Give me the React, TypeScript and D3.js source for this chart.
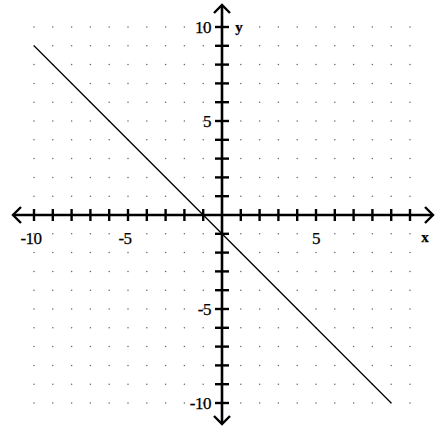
import React from "react";
import * as d3 from "d3";

const xDomain: [number, number] = [-10, 10];
const yDomain: [number, number] = [-10, 10];
const gridValues: number[] = d3.range(-10, 11);
const xTickLabels: number[] = [-10, -5, 5];
const yTickLabels: number[] = [10, 5, -5, -10];
const lineX: number[] = [-10, 9];
const lineY: number[] = [9, -10];

const W = 441;
const H = 432;

export default function App() {
  const x = d3.scaleLinear().domain(xDomain).range([34, 410]);
  const y = d3.scaleLinear().domain(yDomain).range([403, 27]);
  const x0 = x(0);
  const y0 = y(0);
  const pts: [number, number][] = lineX.map((v, i) => [v, lineY[i]]);
  const lineGen = d3
    .line<[number, number]>()
    .x((d) => x(d[0]))
    .y((d) => y(d[1]));
  const font = "'Liberation Serif', 'Times New Roman', serif";
  const ticks = gridValues.filter((v) => v !== 0);
  const dots: [number, number][] = [];
  ticks.forEach((a) => ticks.forEach((b) => dots.push([a, b])));
  const axisLeft = 13;
  const axisRight = 433;
  const axisTop = 5;
  const axisBottom = 424;
  const ah = 8;
  return (
    <svg
      width={W}
      height={H}
      style={{ position: "absolute", left: 0, top: 0, background: "#fff" }}
    >
      <rect width={W} height={H} fill="#fff" />
      {dots.map((d, i) => (
        <circle key={i} cx={x(d[0])} cy={y(d[1])} r={0.75} fill="#666" />
      ))}
      {/* axes */}
      <line x1={axisLeft + 1} x2={axisRight - 1} y1={y0} y2={y0} stroke="#000" strokeWidth={2.6} />
      <line x1={x0} x2={x0} y1={axisTop + 1} y2={axisBottom - 1} stroke="#000" strokeWidth={2.6} />
      <path
        d={`M${axisLeft + ah},${y0 - ah} L${axisLeft},${y0} L${axisLeft + ah},${y0 + ah}`}
        fill="none"
        stroke="#000"
        strokeWidth={2.4}
      />
      <path
        d={`M${axisRight - ah},${y0 - ah} L${axisRight},${y0} L${axisRight - ah},${y0 + ah}`}
        fill="none"
        stroke="#000"
        strokeWidth={2.4}
      />
      <path
        d={`M${x0 - ah},${axisTop + ah} L${x0},${axisTop} L${x0 + ah},${axisTop + ah}`}
        fill="none"
        stroke="#000"
        strokeWidth={2.4}
      />
      <path
        d={`M${x0 - ah},${axisBottom - ah} L${x0},${axisBottom} L${x0 + ah},${axisBottom - ah}`}
        fill="none"
        stroke="#000"
        strokeWidth={2.4}
      />
      {ticks.map((v) => (
        <line key={"xt" + v} x1={x(v)} x2={x(v)} y1={y0 - 6} y2={y0 + 6} stroke="#000" strokeWidth={2.4} />
      ))}
      {ticks.map((v) => (
        <line key={"yt" + v} x1={x0 - 7} x2={x0 + 7} y1={y(v)} y2={y(v)} stroke="#000" strokeWidth={2.4} />
      ))}
      {/* line */}
      <path d={lineGen(pts) || ""} fill="none" stroke="#000" strokeWidth={1.3} />
      {/* labels */}
      <g fontFamily={font} fontSize={17} fill="#000" stroke="#000" strokeWidth={0.25}>
        {xTickLabels.map((v) => (
          <text key={"xl" + v} x={x(v) + (v < 0 ? -3 : 0)} y={y0 + 29} textAnchor="middle" letterSpacing={-0.5}>
            {v < 0 ? "-" + Math.abs(v) : String(v)}
          </text>
        ))}
        {yTickLabels.map((v) => (
          <text key={"yl" + v} x={x0 - 11} y={y(v) + 6} textAnchor="end" letterSpacing={-0.5}>
            {v < 0 ? "-" + Math.abs(v) : String(v)}
          </text>
        ))}
        <text x={425} y={y0 + 27} textAnchor="middle" fontWeight="bold" fontSize={15}>
          x
        </text>
        <text x={239} y={y(10) + 5} textAnchor="middle" fontWeight="bold" fontSize={15}>
          y
        </text>
      </g>
    </svg>
  );
}
